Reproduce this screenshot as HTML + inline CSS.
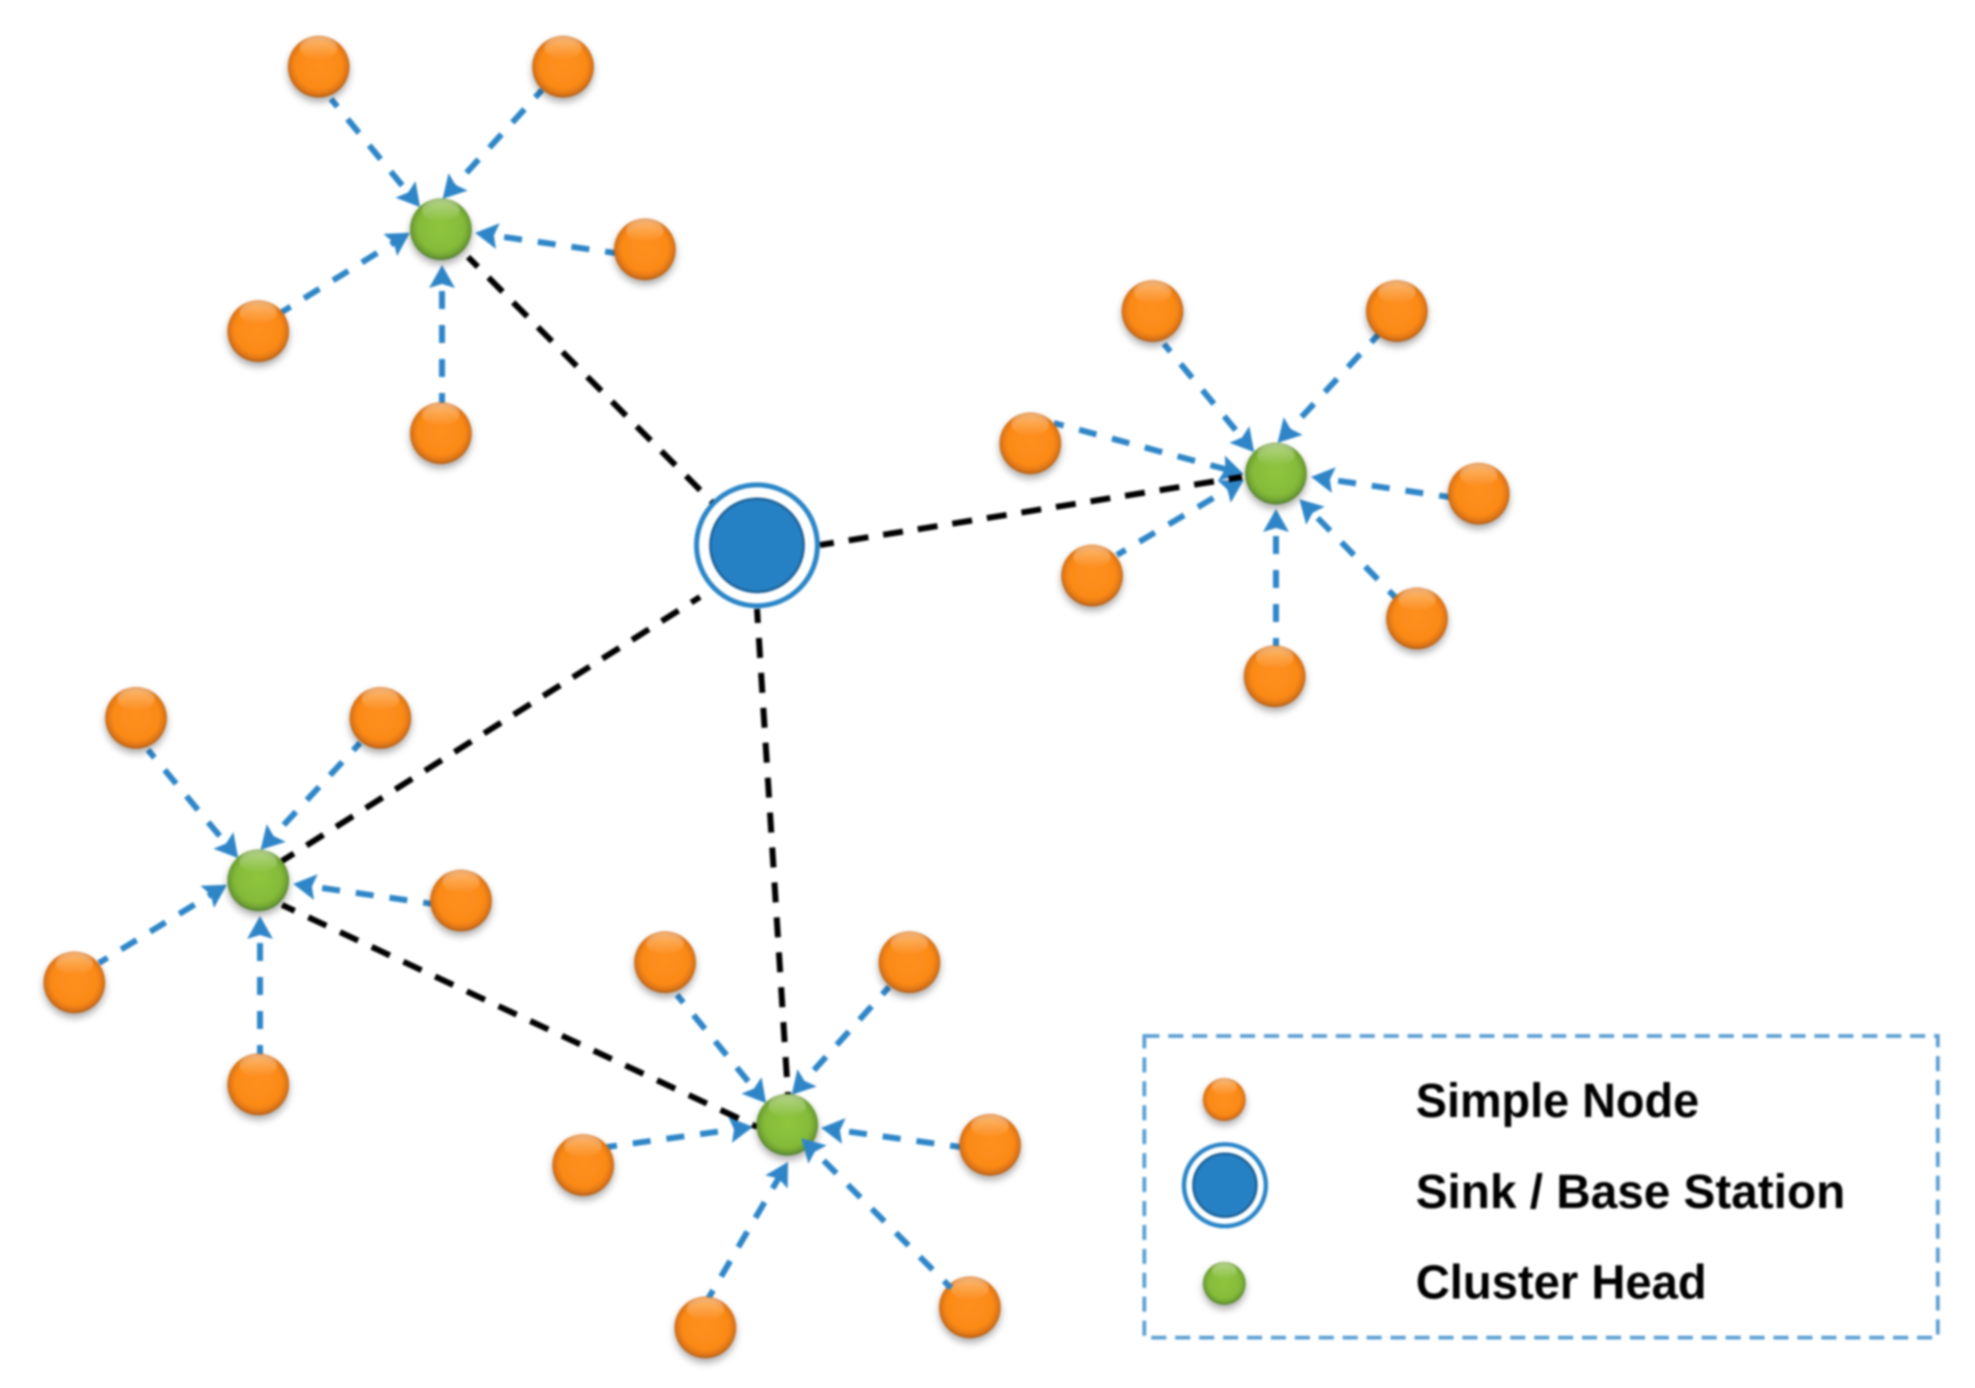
<!DOCTYPE html>
<html lang="en">
<head>
<meta charset="utf-8">
<title>Cluster network diagram</title>
<style>
html,body{margin:0;padding:0;background:#fff;width:1975px;height:1388px;overflow:hidden}
svg{display:block;filter:blur(1px)}
.b{stroke:#2e86c8;stroke-width:6;stroke-dasharray:18 16;stroke-dashoffset:8;fill:none;marker-end:url(#arrow)}
.k{stroke:#000;stroke-width:6;stroke-dasharray:20 15;stroke-dashoffset:6;fill:none}
text{font-family:"Liberation Sans",sans-serif;font-weight:700;font-size:38px;fill:#000}
</style>
</head>
<body>
<svg xmlns="http://www.w3.org/2000/svg" width="1975" height="1388" viewBox="0 0 1568 1102">
<defs>
<marker id="arrow" markerUnits="userSpaceOnUse" markerWidth="1" markerHeight="1" refX="-8" refY="0" orient="auto" overflow="visible">
<path d="M0 0L-23 -13L-19 0L-23 13Z" fill="#2e86c8"/>
</marker>
<radialGradient id="og" cx="50%" cy="48%" r="52%">
<stop offset="0" stop-color="#ff9020"/><stop offset=".72" stop-color="#fb8a17"/><stop offset=".9" stop-color="#df7514"/><stop offset="1" stop-color="#a95d1e"/>
</radialGradient>
<radialGradient id="gg" cx="50%" cy="48%" r="52%">
<stop offset="0" stop-color="#8fc63e"/><stop offset=".72" stop-color="#84bb39"/><stop offset=".9" stop-color="#6ea032"/><stop offset="1" stop-color="#4e7a34"/>
</radialGradient>
<linearGradient id="hl" x1="0" y1="0" x2="0" y2="1">
<stop offset="0" stop-color="#fff" stop-opacity=".42"/><stop offset="1" stop-color="#fff" stop-opacity="0"/>
</linearGradient>
<filter id="sh" x="-30%" y="-30%" width="160%" height="170%">
<feDropShadow dx="0" dy="3.500" stdDeviation="3" flood-color="#000" flood-opacity=".32"/>
</filter>
<g id="o"><circle r="24.500" fill="url(#og)" filter="url(#sh)"/><ellipse cy="-15" rx="15" ry="9" fill="url(#hl)"/></g>
<g id="c"><circle r="24.500" fill="url(#gg)" filter="url(#sh)"/><ellipse cy="-15" rx="15" ry="9" fill="url(#hl)"/></g>
<g id="os"><circle r="17" fill="url(#og)" filter="url(#sh)"/><ellipse cy="-10" rx="10" ry="6.500" fill="url(#hl)"/></g>
<g id="cs"><circle r="17" fill="url(#gg)" filter="url(#sh)"/><ellipse cy="-10" rx="10" ry="6.500" fill="url(#hl)"/></g>
</defs>

<rect width="1568" height="1102" fill="#fff"/>

<g transform="scale(0.79392)">
<!-- cluster 1 -->
<line class="b" x1="331" y1="99" x2="415" y2="201"/>
<line class="b" x1="542" y1="90" x2="448" y2="193"/>
<line class="b" x1="615" y1="253" x2="483" y2="234"/>
<line class="b" x1="282" y1="312" x2="403" y2="237"/>
<line class="b" x1="442" y1="403" x2="442" y2="273"/>
<!-- cluster 2 -->
<line class="b" x1="1164" y1="344" x2="1249" y2="446"/>
<line class="b" x1="1378" y1="335" x2="1283" y2="437"/>
<line class="b" x1="1054" y1="423" x2="1236" y2="472"/>
<line class="b" x1="1117" y1="555" x2="1237" y2="484"/>
<line class="b" x1="1449" y1="497" x2="1319" y2="478"/>
<line class="b" x1="1396" y1="598" x2="1305" y2="505"/>
<line class="b" x1="1276" y1="648" x2="1276" y2="517"/>
<!-- cluster 3 -->
<line class="b" x1="148" y1="750" x2="233" y2="852"/>
<line class="b" x1="360" y1="743" x2="266" y2="844"/>
<line class="b" x1="433" y1="904" x2="301" y2="885"/>
<line class="b" x1="99" y1="963" x2="220" y2="889"/>
<line class="b" x1="260" y1="1055" x2="260" y2="924"/>
<!-- cluster 4 -->
<line class="b" x1="677" y1="995" x2="761" y2="1097"/>
<line class="b" x1="889" y1="987" x2="797" y2="1089"/>
<line class="b" x1="607" y1="1147" x2="745" y2="1128"/>
<line class="b" x1="960" y1="1147" x2="829" y2="1129"/>
<line class="b" x1="708" y1="1299" x2="784" y2="1169"/>

<!-- backbone links -->
<line class="k" x1="468" y1="257" x2="713" y2="503"/>
<line class="k" x1="820" y1="545" x2="1242" y2="477"/>
<line class="k" x1="282" y1="861" x2="700" y2="597"/>
<line class="k" x1="757" y1="609" x2="788" y2="1095"/>
<line class="k" x1="282" y1="905" x2="757" y2="1127"/>
</g>

<!-- simple nodes -->
<use href="#o" x="253" y="53"/><use href="#o" x="447" y="53"/><use href="#o" x="512" y="198"/><use href="#o" x="205" y="263"/><use href="#o" x="350" y="344"/>
<use href="#o" x="915" y="247"/><use href="#o" x="1109" y="247"/><use href="#o" x="818" y="352"/><use href="#o" x="1174" y="392"/><use href="#o" x="867" y="457"/><use href="#o" x="1125" y="491"/><use href="#o" x="1012" y="537"/>
<use href="#o" x="108" y="570"/><use href="#o" x="302" y="570"/><use href="#o" x="366" y="715"/><use href="#o" x="59" y="780"/><use href="#o" x="205" y="861"/>
<use href="#o" x="528" y="764"/><use href="#o" x="722" y="764"/><use href="#o" x="786" y="909"/><use href="#o" x="463" y="925"/><use href="#o" x="770" y="1038"/><use href="#o" x="560" y="1054"/>

<!-- cluster heads -->
<use href="#c" x="350" y="182"/><use href="#c" x="1013" y="376"/><use href="#c" x="205" y="699"/><use href="#c" x="625" y="893"/>

<!-- arrow drawn over cluster head -->
<g transform="scale(0.79392)">
<line class="b" x1="951" y1="1288" x2="807" y2="1144"/>
</g>

<!-- sink -->
<circle cx="601" cy="433" r="48" fill="#fff" stroke="#2a85c7" stroke-width="4"/>
<circle cx="601" cy="433" r="37" fill="#2581c4" stroke="#1c6199" stroke-width="2"/>

<!-- legend -->
<rect x="908.500" y="822.500" width="630" height="239.500" fill="none" stroke="#5b9fd3" stroke-width="3" stroke-dasharray="12 7"/>
<use href="#os" x="972" y="873"/>
<circle cx="972.500" cy="941" r="32.500" fill="#fff" stroke="#2a85c7" stroke-width="3.500"/>
<circle cx="972.500" cy="941" r="25" fill="#2581c4" stroke="#1c6199" stroke-width="2"/>
<use href="#cs" x="972" y="1019"/>
<text x="1124" y="887" textLength="225" lengthAdjust="spacingAndGlyphs">Simple Node</text>
<text x="1124" y="959" textLength="341" lengthAdjust="spacingAndGlyphs">Sink / Base Station</text>
<text x="1124" y="1031" textLength="231" lengthAdjust="spacingAndGlyphs">Cluster Head</text>
</svg>
</body>
</html>
